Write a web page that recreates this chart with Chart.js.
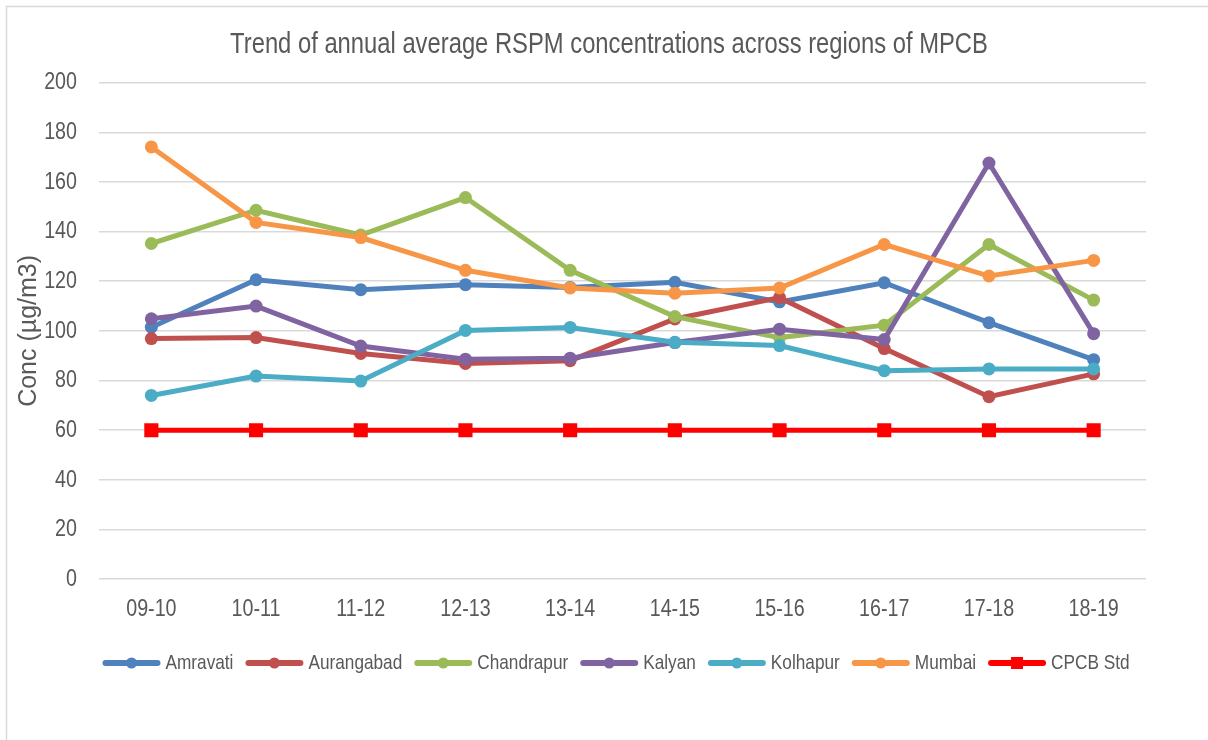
<!DOCTYPE html>
<html>
<head>
<meta charset="utf-8">
<title>RSPM trend</title>
<script src="https://cdn.jsdelivr.net/npm/chart.js@4.4.1/dist/chart.umd.min.js"></script>
<style>
    html, body { margin: 0; padding: 0; background: #fff; }
    #wrap { width: 1208px; height: 740px; }
</style>
</head>
<body>
<div id="wrap"><canvas id="rspmChart" width="1208" height="740"></canvas></div>
<script>
// years on the x axis
const years = ['09-10', '10-11', '11-12', '12-13', '13-14', '14-15', '15-16', '16-17', '17-18', '18-19'];

// annual average RSPM (µg/m3)
const amravati   = [101.5, 120.6, 116.6, 118.6, 117.5, 119.6, 111.7, 119.4, 103.3, 88.4];
const aurangabad = [96.9, 97.3, 90.9, 86.9, 88.0, 104.8, 113.4, 92.9, 73.5, 82.7];
const chandrapur = [135.2, 148.6, 138.6, 153.7, 124.4, 105.8, 97.3, 102.3, 134.8, 112.4];
const kalyan     = [104.9, 110.0, 93.9, 88.6, 89.0, 95.3, 100.7, 96.5, 167.6, 98.9];
const kolhapur   = [74.0, 81.8, 79.8, 100.2, 101.4, 95.4, 94.1, 84.0, 84.7, 84.7];
const mumbai     = [174.1, 143.7, 137.6, 124.4, 117.3, 115.2, 117.3, 134.8, 122.1, 128.4];
const cpcbStd    = [60, 60, 60, 60, 60, 60, 60, 60, 60, 60];

const seriesNames = ['Amravati', 'Aurangabad', 'Chandrapur', 'Kalyan', 'Kolhapur', 'Mumbai', 'CPCB Std'];
const seriesData = [amravati, aurangabad, chandrapur, kalyan, kolhapur, mumbai, cpcbStd];
const seriesColors = ['#4F81BD', '#C0504D', '#9BBB59', '#8064A2', '#4BACC6', '#F79646', '#FF0000'];

const yTicks = [0, 20, 40, 60, 80, 100, 120, 140, 160, 180, 200];

const chartTitle = 'Trend of annual average RSPM concentrations across regions of MPCB';

const sans = '"Liberation Sans", Arial, sans-serif';
const textGrey = '#595959';
const squeeze = 0.82; // no narrow face installed, so squash the regular one

function narrowText(ctx, text, x, y, size, align) {
    ctx.save();
    ctx.translate(x, y);
    ctx.scale(squeeze, 1);
    ctx.font = size + 'px ' + sans;
    ctx.fillStyle = textGrey;
    ctx.textAlign = align || 'center';
    ctx.textBaseline = 'middle';
    ctx.fillText(text, 0, 0);
    ctx.restore();
}

function narrowWidth(ctx, text, size) {
    ctx.save();
    ctx.font = size + 'px ' + sans;
    const w = ctx.measureText(text).width * squeeze;
    ctx.restore();
    return w;
}

// light frame round the whole chart, like the office chart box
const frame = {
    id: 'frame',
    beforeDraw(chart) {
        const ctx = chart.ctx;
        ctx.save();
        ctx.fillStyle = '#fff';
        ctx.fillRect(0, 0, chart.width, chart.height);
        ctx.strokeStyle = '#d9d9d9';
        ctx.lineWidth = 1.5;
        ctx.strokeRect(6.5, 6.5, chart.width + 20, chart.height + 20);
        ctx.restore();
    }
};

// title, tick labels and legend in a condensed look
const narrowLabels = {
    id: 'narrowLabels',
    afterDraw(chart) {
        const ctx = chart.ctx;
        const area = chart.chartArea;
        const xs = chart.scales.x;
        const ys = chart.scales.y;

        narrowText(ctx, chartTitle, 609, 45, 29, 'center');

        xs.ticks.forEach((t, i) => {
            narrowText(ctx, years[i], xs.getPixelForTick(i), area.bottom + 30, 24, 'center');
        });
        ys.ticks.forEach(t => {
            narrowText(ctx, String(t.value), area.left - 22, ys.getPixelForValue(t.value), 24, 'right');
        });

        // legend: line sample with marker, then the name
        const size = 21, lineLen = 58, gapText = 5, gapItem = 12, legendY = 663;
        const widths = seriesNames.map(n => lineLen + gapText + narrowWidth(ctx, n, size));
        const total = widths.reduce((a, b) => a + b, 0) + gapItem * (widths.length - 1);
        let x = 616 - total / 2;
        seriesNames.forEach((name, i) => {
            const col = seriesColors[i];
            ctx.save();
            ctx.strokeStyle = col;
            ctx.lineWidth = 6;
            ctx.lineCap = 'round';
            ctx.beginPath();
            ctx.moveTo(x + 3, legendY);
            ctx.lineTo(x + lineLen - 3, legendY);
            ctx.stroke();
            ctx.fillStyle = col;
            const cx = x + lineLen / 2;
            if (name === 'CPCB Std') {
                ctx.fillRect(cx - 6, legendY - 6, 12, 12);
            } else {
                ctx.beginPath();
                ctx.arc(cx, legendY, 5.5, 0, Math.PI * 2);
                ctx.fill();
            }
            ctx.restore();
            narrowText(ctx, name, x + lineLen + gapText, legendY, size, 'left');
            x += widths[i] + gapItem;
        });
    }
};

const datasets = seriesNames.map((name, i) => {
    const isStd = name === 'CPCB Std';
    return {
        label: name,
        data: seriesData[i],
        borderColor: seriesColors[i],
        backgroundColor: seriesColors[i],
        borderWidth: 5,
        pointStyle: isStd ? 'rect' : 'circle',
        pointRadius: isStd ? 10 : 6.5,
        pointBorderWidth: 0,
        pointBackgroundColor: seriesColors[i],
        tension: 0,
        order: seriesNames.length - i // later series drawn on top
    };
});

new Chart(document.getElementById('rspmChart'), {
    type: 'line',
    data: {
        labels: years,
        datasets: datasets
    },
    options: {
        responsive: false,
        animation: false,
        events: [],
        layout: {
            padding: { left: 6, right: 62, top: 0, bottom: 100 }
        },
        scales: {
            x: {
                offset: true,
                grid: { display: false, drawTicks: false },
                border: { display: false },
                ticks: {
                    color: 'rgba(0,0,0,0)', // drawn by narrowLabels
                    font: { family: sans, size: 24 },
                    padding: 16,
                    maxRotation: 0,
                    autoSkip: false
                }
            },
            y: {
                min: 0,
                max: 200,
                afterBuildTicks(scale) {
                    scale.ticks = yTicks.map(v => ({ value: v }));
                },
                afterFit(scale) {
                    scale.width = 93; // plot starts near x=99
                },
                grid: { color: '#d9d9d9', lineWidth: 1.5, drawTicks: false },
                border: { display: false },
                ticks: {
                    color: 'rgba(0,0,0,0)',
                    font: { family: sans, size: 24 },
                    padding: 20
                },
                title: {
                    display: true,
                    text: 'Conc (µg/m3)',
                    color: textGrey,
                    font: { family: sans, size: 25 },
                    padding: { top: 8, bottom: 0 }
                }
            }
        },
        plugins: {
            title: {
                display: true,
                text: chartTitle,
                color: 'rgba(0,0,0,0)',
                font: { family: sans, size: 28, weight: 'normal' },
                padding: { top: 28, bottom: 21 }
            },
            legend: { display: false },
            tooltip: { enabled: false }
        }
    },
    plugins: [frame, narrowLabels]
});
</script>
</body>
</html>
